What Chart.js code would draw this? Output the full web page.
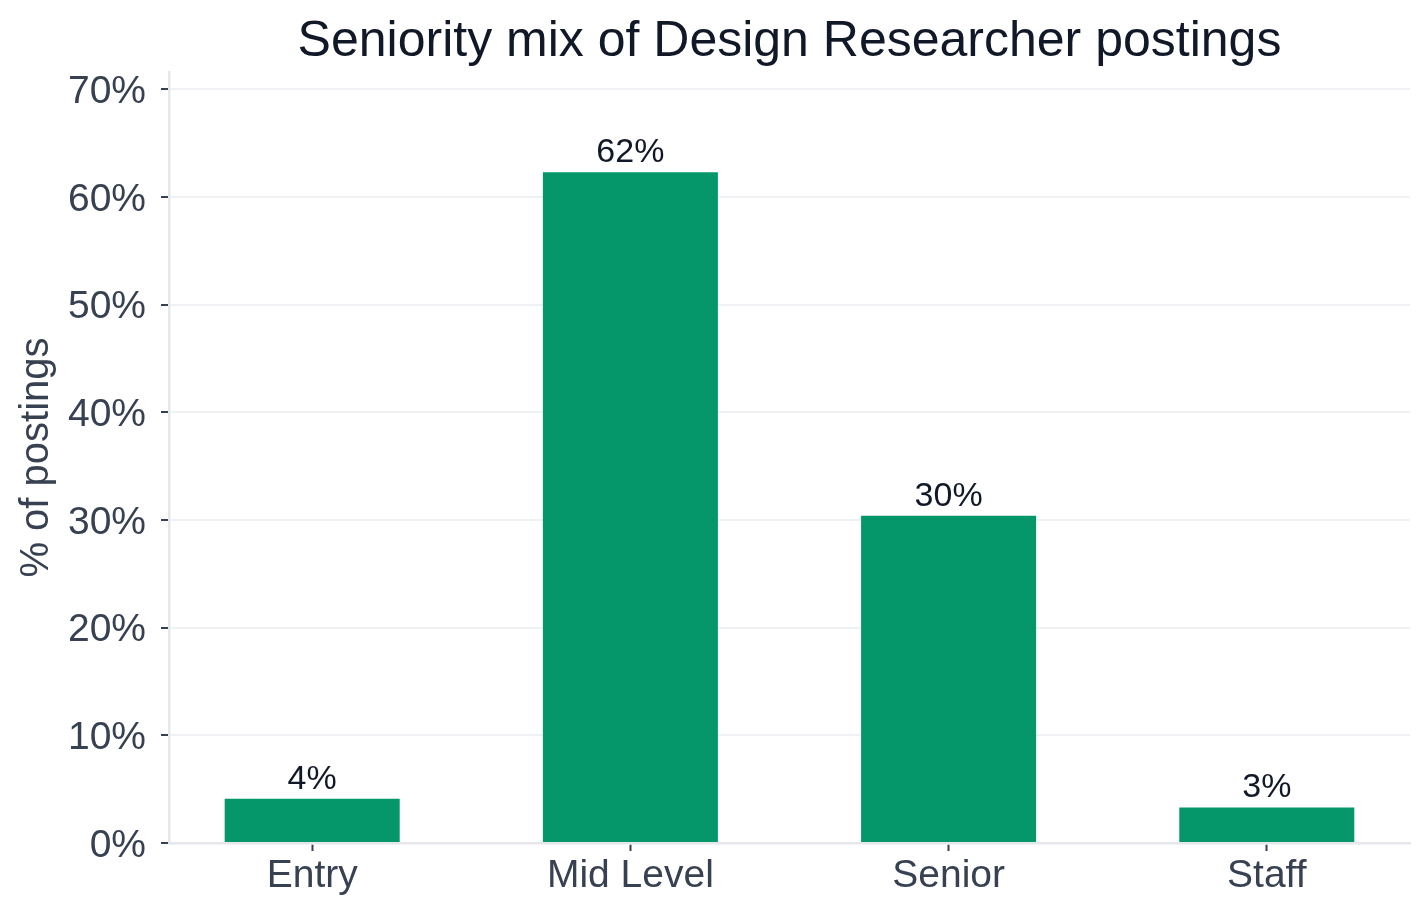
<!DOCTYPE html>
<html>
<head>
<meta charset="utf-8">
<script src="https://cdn.jsdelivr.net/npm/chart.js@4/dist/chart.umd.min.js"></script>
<style>
  html, body { margin: 0; padding: 0; background: #fff; }
  #wrap { width: 1428px; height: 918px; position: relative; }
</style>
</head>
<body>
<div id="wrap"><canvas id="seniorityChart"></canvas></div>
<script>
// data
const categories = ['Entry', 'Mid Level', 'Senior', 'Staff'];
const shares = [4.1, 62.3, 30.4, 3.3];
const yTicks = [0, 10, 20, 30, 40, 50, 60, 70];

const chartTitle = 'Seniority mix of Design Researcher postings';
const FONT = '"Liberation Sans", Arial, Helvetica, sans-serif';

// title centred over the plot area rather than the canvas
const titlePlugin = {
  id: 'plotTitle',
  afterDraw(chart) {
    const { ctx, chartArea } = chart;
    ctx.save();
    ctx.font = '50px ' + FONT;
    ctx.fillStyle = '#111827';
    ctx.textAlign = 'center';
    ctx.textBaseline = 'alphabetic';
    ctx.fillText(chartTitle, (chartArea.left + chartArea.right) / 2, 56);
    ctx.restore();
  }
};

// percentage labels above each bar
const valueLabels = {
  id: 'valueLabels',
  afterDatasetsDraw(chart) {
    const { ctx } = chart;
    const meta = chart.getDatasetMeta(0);
    ctx.save();
    ctx.font = '34px ' + FONT;
    ctx.fillStyle = '#111827';
    ctx.textAlign = 'center';
    ctx.textBaseline = 'alphabetic';
    meta.data.forEach((bar, i) => {
      ctx.fillText(Math.round(shares[i]) + '%', bar.x, bar.y - 10);
    });
    ctx.restore();
  }
};

const ctx = document.getElementById('seniorityChart').getContext('2d');
const chart = new Chart(ctx, {
  type: 'bar',
  data: {
    datasets: [{
      label: '% of postings',
      data: shares.map((v, i) => ({ x: i, y: v })),
      backgroundColor: '#059669',
      borderWidth: 0,
      barPercentage: 0.55,
      categoryPercentage: 1.0
    }]
  },
  options: {
    responsive: true,
    maintainAspectRatio: false,
    animation: false,
    layout: { padding: { top: 72, right: 18, bottom: 0, left: 0 } },
    plugins: {
      legend: { display: false },
      tooltip: { enabled: false },
      title: { display: false }
    },
    scales: {
      x: {
        type: 'linear',
        offset: false,
        min: -0.45,
        max: 3.45,
        afterBuildTicks: (scale) => {
          scale.ticks = categories.map((c, i) => ({ value: i }));
        },
        afterFit: (scale) => { scale.height = 75; },
        ticks: {
          callback: (value) => categories[value],
          color: '#374151',
          font: { family: FONT, size: 39 },
          padding: 2,
          maxRotation: 0,
          autoSkip: false
        },
        grid: {
          offset: false,
          drawOnChartArea: false,
          drawTicks: true,
          tickLength: 8,
          tickColor: '#374151',
          tickWidth: 2
        },
        border: { color: '#e5e7eb', width: 2.5 }
      },
      y: {
        min: 0,
        max: 71.6,
        afterBuildTicks: (scale) => {
          scale.ticks = yTicks.map(v => ({ value: v }));
        },
        afterFit: (scale) => { scale.width = 169; },
        ticks: {
          callback: (value) => value + '%',
          color: '#374151',
          font: { family: FONT, size: 39 },
          padding: 15,
          labelOffset: 3,
          includeBounds: false
        },
        grid: {
          color: '#f0f1f4',
          lineWidth: 2,
          tickLength: 8,
          tickColor: '#374151',
          tickWidth: 2
        },
        border: { color: '#e5e7eb', width: 2.5 },
        title: {
          display: true,
          text: '% of postings',
          color: '#374151',
          font: { family: FONT, size: 40 },
          padding: { top: 13, bottom: 10 }
        }
      }
    }
  },
  plugins: [titlePlugin, valueLabels]
});
</script>
</body>
</html>
